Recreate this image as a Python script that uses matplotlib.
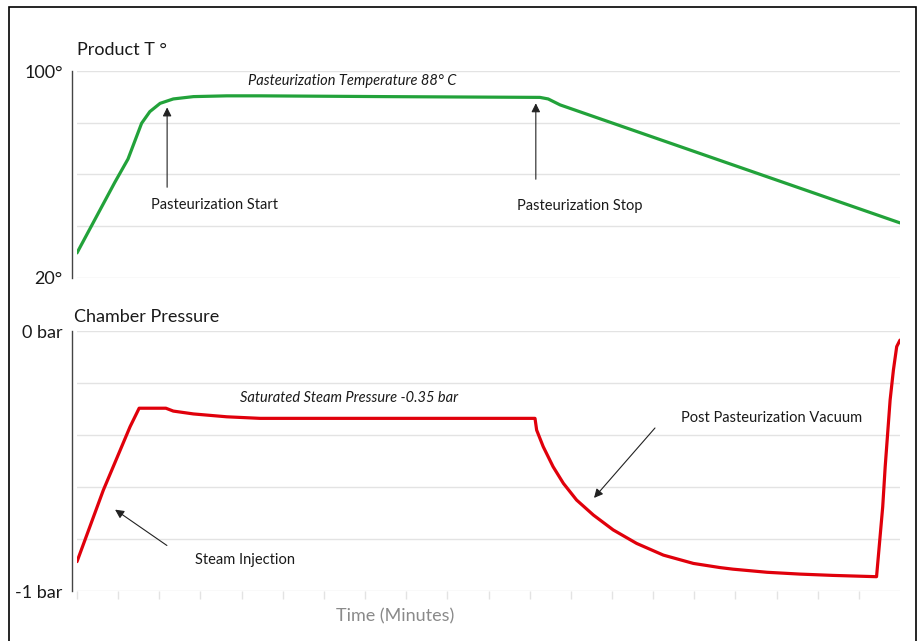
import matplotlib
matplotlib.use("Agg")
import matplotlib.pyplot as plt
from matplotlib.patches import Rectangle

plt.rcParams['font.family'] = ['Lato', 'DejaVu Sans']

# product temperature (minutes, deg C)
temp_t = [0.0, 0.92, 1.24, 1.57, 1.77, 2.02, 2.34, 2.83, 3.64, 4.45, 7.5,
          11.25, 11.45, 11.74, 20.0]
temp_v = [29.7, 57.0, 66.0, 79.8, 84.3, 87.5, 89.2, 90.1, 90.4, 90.4, 90.1,
          89.8, 89.2, 86.9, 41.3]

# chamber pressure (minutes, bar)
pres_t = [0.0, 0.64, 0.88, 1.29, 1.51, 2.16, 2.34, 2.83, 3.64, 4.45, 11.13,
          11.17, 11.33, 11.57, 11.82, 12.14, 12.55, 13.03, 13.60, 14.25, 14.98,
          15.63, 15.94, 16.77, 17.57, 18.37, 19.43, 19.58, 19.64, 19.76, 19.84,
          19.92, 20.0]
pres_v = [-0.887, -0.612, -0.522, -0.368, -0.297, -0.297, -0.308, -0.319, -0.330,
          -0.336, -0.336, -0.381, -0.445, -0.522, -0.586, -0.650, -0.708, -0.765,
          -0.817, -0.862, -0.894, -0.910, -0.916, -0.928, -0.935, -0.940, -0.945,
          -0.676, -0.522, -0.265, -0.150, -0.060, -0.035]

temp_ticks = [20, 40, 60, 80, 100]
temp_labels = ['20°', '', '', '', '100°']
pres_ticks = [-1.0, -0.8, -0.6, -0.4, -0.2, 0.0]
pres_labels = ['-1 bar', '', '', '', '', '0 bar']
time_ticks = list(range(20))

W, H = 920, 641
fig = plt.figure(figsize=(W / 100, H / 100), dpi=100)

# outer frame
fig.patches.append(Rectangle((9 / W, -0.01), 907 / W, 1.01 - 7 / H, transform=fig.transFigure,
                             fill=False, edgecolor='black', lw=1.2, clip_on=False))

grid_c = '#e3e3e3'
txt_c = '#1a1a1a'


def style_axis(ax):
    for s in ['top', 'right', 'bottom']:
        ax.spines[s].set_visible(False)
    ax.spines['left'].set_position(('outward', 3.3))
    ax.spines['left'].set_color('#444444')
    ax.spines['left'].set_linewidth(1.0)
    ax.grid(axis='y', color=grid_c, lw=1.0)
    ax.set_axisbelow(True)
    ax.tick_params(axis='y', length=0, pad=7, labelsize=13, labelcolor=txt_c)
    ax.set_xlim(0, 20)


# top: temperature
ax1 = fig.add_axes([77 / W, 1 - 278 / H, 823 / W, 207 / H])
style_axis(ax1)
ax1.plot(temp_t, temp_v, color='#22a23a', lw=2.3, solid_capstyle='round',
         solid_joinstyle='round')
ax1.set_ylim(20, 100)
ax1.set_yticks(temp_ticks, temp_labels)
ax1.set_xticks([])

arrow = dict(arrowstyle='-|>', color='#222222', lw=0.8, mutation_scale=13)
ax1.text(6.68, 96.1, 'Pasteurization Temperature 88° C', style='italic', fontsize=10.5,
         ha='center', va='center', color=txt_c)
ax1.annotate('', xy=(2.19, 87.0), xytext=(2.19, 54.0), arrowprops=arrow)
ax1.text(3.34, 48.2, 'Pasteurization Start', fontsize=10.5, ha='center', va='center', color=txt_c)
ax1.annotate('', xy=(11.15, 88.6), xytext=(11.15, 57.1), arrowprops=arrow)
ax1.text(12.21, 47.8, 'Pasteurization Stop', fontsize=10.5, ha='center', va='center', color=txt_c)

# bottom: pressure
ax2 = fig.add_axes([77 / W, 1 - 591 / H, 823 / W, 260 / H])
style_axis(ax2)
ax2.plot(pres_t, pres_v, color='#e0000b', lw=2.3, solid_capstyle='round',
         solid_joinstyle='round')
ax2.set_ylim(-1, 0)
ax2.set_yticks(pres_ticks, pres_labels)
ax2.set_xticks(time_ticks)
ax2.tick_params(axis='x', length=6, color=grid_c, width=1.0, labelbottom=False)

ax2.text(6.62, -0.258, 'Saturated Steam Pressure -0.35 bar', style='italic', fontsize=10.5,
         ha='center', va='center', color=txt_c)
ax2.annotate('', xy=(0.87, -0.681), xytext=(2.24, -0.831), arrowprops=arrow)
ax2.text(4.08, -0.881, 'Steam Injection', fontsize=10.5, ha='center', va='center', color=txt_c)
ax2.annotate('', xy=(12.52, -0.65), xytext=(14.09, -0.365), arrowprops=arrow)
ax2.text(16.88, -0.335, 'Post Pasteurization Vacuum', fontsize=10.5, ha='center', va='center',
         color=txt_c)

fig.text(77 / W, 1 - 50 / H, 'Product T °', fontsize=13, ha='left', va='center', color=txt_c)
fig.text(74 / W, 1 - 317 / H, 'Chamber Pressure', fontsize=13, ha='left', va='center', color=txt_c)
fig.text(395 / W, 1 - 616 / H, 'Time (Minutes)', fontsize=13, ha='center', va='center',
         color='#8a8a8a')

fig.savefig('out.png', dpi=100)
